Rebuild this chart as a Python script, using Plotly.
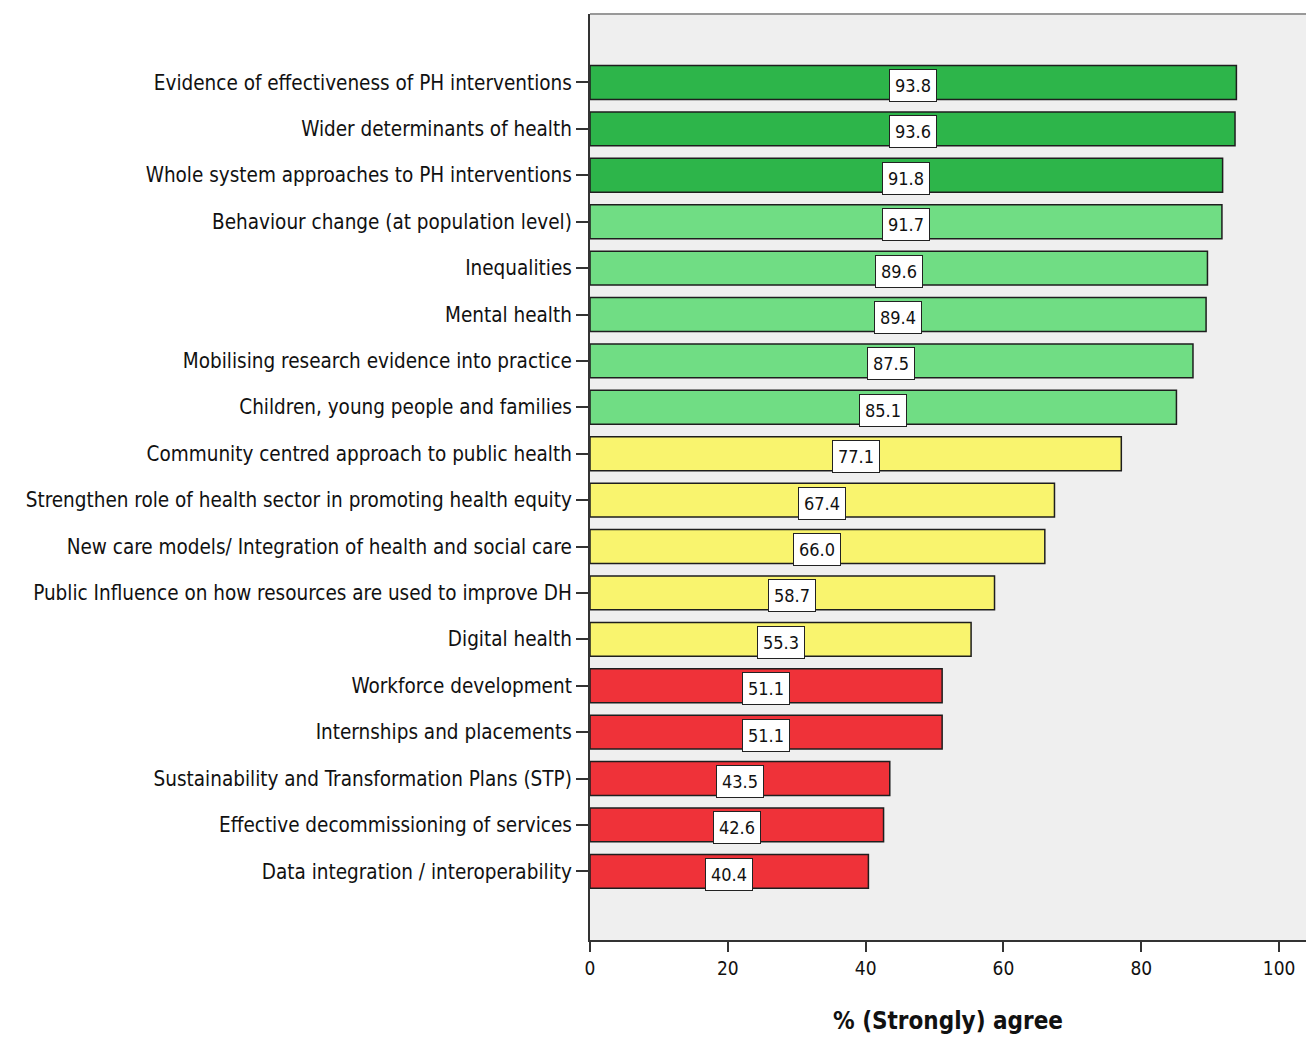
import plotly.graph_objects as go

categories = [
    "Evidence of effectiveness of PH interventions",
    "Wider determinants of health",
    "Whole system approaches to PH interventions",
    "Behaviour change (at population level)",
    "Inequalities",
    "Mental health",
    "Mobilising research evidence into practice",
    "Children, young people and families",
    "Community centred approach to public health",
    "Strengthen role of health sector in promoting health equity",
    "New care models/ Integration of health and social care",
    "Public Influence on how resources are used to improve DH",
    "Digital health",
    "Workforce development",
    "Internships and placements",
    "Sustainability and Transformation Plans (STP)",
    "Effective decommissioning of services",
    "Data integration / interoperability",
]
values = [93.8, 93.6, 91.8, 91.7, 89.6, 89.4, 87.5, 85.1, 77.1, 67.4, 66.0, 58.7, 55.3, 51.1, 51.1, 43.5, 42.6, 40.4]
tiers = ["top", "top", "top", "high", "high", "high", "high", "high",
         "mid", "mid", "mid", "mid", "mid", "low", "low", "low", "low", "low"]
x_ticks = [0, 20, 40, 60, 80, 100]

tier_colors = {"top": "#2db54a", "high": "#70dd84", "mid": "#f9f46e", "low": "#ef3239"}
FONT = "DejaVu Sans Condensed, Liberation Sans Narrow, Arial Narrow, sans-serif"

fig = go.Figure()
fig.add_trace(go.Bar(
    x=values, y=categories, orientation="h",
    width=0.73,
    marker=dict(color=[tier_colors[t] for t in tiers], line=dict(color="#1e1e1e", width=1.5)),
    hoverinfo="x+y",
))

for c, v in zip(categories, values):
    fig.add_annotation(
        x=v / 2, y=c, text=f"{v:.1f}", showarrow=False,
        font=dict(family=FONT, size=18, color="#111"),
        bgcolor="white", bordercolor="#222", borderwidth=1, borderpad=5,
        yshift=-3,
    )

fig.add_shape(type="line", xref="paper", yref="paper", x0=0, x1=1, y0=1, y1=1,
              line=dict(color="#999", width=2))

fig.update_layout(
    width=1306, height=1037,
    margin=dict(l=590, r=0, t=14, b=97),
    paper_bgcolor="white", plot_bgcolor="#efefef",
    showlegend=False,
    font=dict(family=FONT, color="#111"),
)
fig.update_xaxes(
    range=[0, 103.9], tickvals=x_ticks, ticktext=[str(t) for t in x_ticks],
    showgrid=False, zeroline=False,
    showline=True, linecolor="#333", linewidth=2,
    ticks="outside", ticklen=10, tickwidth=2, tickcolor="#333",
    tickfont=dict(family=FONT, size=19, color="#111"),
    title=dict(text="<b>% (Strongly) agree</b>", font=dict(family=FONT, size=24, color="#111"), standoff=34),
)
fig.update_yaxes(
    type="category", categoryorder="array", categoryarray=categories,
    range=[18.48, -1.476],
    showgrid=False, zeroline=False,
    showline=True, linecolor="#333", linewidth=2,
    ticks="outside", ticklen=12, tickwidth=2, tickcolor="#333",
    tickfont=dict(family=FONT, size=20.5, color="#111"),
)

fig.write_html("out.html")
